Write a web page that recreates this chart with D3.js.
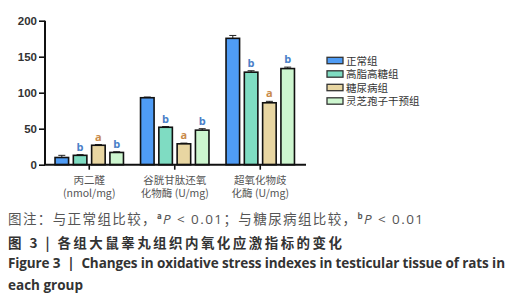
<!DOCTYPE html>
<html><head><meta charset="utf-8">
<script src="https://cdn.jsdelivr.net/npm/d3@7"></script>
<style>
html,body{margin:0;padding:0;background:#fff;}
svg{display:block;}
</style>
</head><body>
<svg id="chart" width="529" height="300"></svg>
<script>
const categories = [["丙二醛","(nmol/mg)"],["谷胱甘肽还氧","化物酶 (U/mg)"],["超氧化物歧","化酶 (U/mg)"]];
const seriesNames = ["正常组","高脂高糖组","糖尿病组","灵芝孢子干预组"];
const seriesColors = ["#4f9cf5","#7fdcc2","#e8d6a2","#cdf6cf"];
// values per category, one per series
const values = [
  [10, 13, 27, 17],
  [93, 52, 29, 48],
  [175.5, 128.5, 86, 133.5]
];
const errors = [
  [3, 1, 1, 1],
  [1, 1, 1, 2],
  [4, 2, 2, 2]
];
const marks = [
  ["", "b", "a", "b"],
  ["", "b", "a", "b"],
  ["", "b", "a", "b"]
];
const yTicks = [0, 50, 100, 150, 200];

const svg = d3.select("#chart");
const y = d3.scaleLinear().domain([0, 200]).range([164.7, 20.7]);
const x0 = d3.scaleBand().domain(d3.range(categories.length)).range([46.5, 303]).padding(0);
const x1 = d3.scaleBand().domain(d3.range(seriesNames.length)).range([-36.5, 36.5]).paddingInner(0.26).paddingOuter(0.125);

// bars
const g = svg.append("g");
categories.forEach((c, ci) => {
  const cx = x0(ci) + x0.bandwidth() / 2;
  values[ci].forEach((v, si) => {
    const bx = cx + x1(si);
    const bw = x1.bandwidth();
    const top = y(v + errors[ci][si]);
    g.append("line").attr("x1", bx + bw / 2).attr("x2", bx + bw / 2)
      .attr("y1", y(v)).attr("y2", top).attr("stroke", "#222").attr("stroke-width", 1);
    g.append("line").attr("x1", bx + bw / 2 - 3.5).attr("x2", bx + bw / 2 + 3.5)
      .attr("y1", top).attr("y2", top).attr("stroke", "#222").attr("stroke-width", 1);
    g.append("rect").attr("x", bx).attr("y", y(v)).attr("width", bw).attr("height", y(0) - y(v))
      .attr("fill", seriesColors[si]).attr("stroke", "#111").attr("stroke-width", 1.6);
    if (marks[ci][si]) {
      g.append("text").attr("x", bx + bw / 2).attr("y", top - 4)
        .attr("text-anchor", "middle")
        .attr("font-family", "Open Sans, Arial, sans-serif").attr("font-weight", "bold")
        .attr("font-size", 11)
        .attr("fill", marks[ci][si] === "a" ? "#c98a4a" : "#4a7fc8")
        .text(marks[ci][si]);
    }
  });
});

// y axis
const yAxis = d3.axisLeft(y).tickValues(yTicks).tickSize(6).tickPadding(2);
const ya = svg.append("g").attr("transform", "translate(45,0)").call(yAxis);
ya.select(".domain").attr("stroke", "#111").attr("stroke-width", 2).attr("d", "M0," + y(200) + "V" + y(0));
ya.selectAll(".tick line").attr("stroke", "#111").attr("stroke-width", 1.6);
ya.selectAll(".tick text").attr("font-family", "Liberation Sans, Arial, sans-serif")
  .attr("font-weight", "bold").attr("font-size", 11.5).attr("fill", "#333");

// x axis
const xa = svg.append("g").attr("transform", "translate(0," + y(0) + ")");
xa.append("line").attr("x1", 44).attr("x2", 306).attr("stroke", "#111").attr("stroke-width", 2);
categories.forEach((c, ci) => {
  const cx = x0(ci) + x0.bandwidth() / 2;
  xa.append("line").attr("x1", cx).attr("x2", cx).attr("y1", 0).attr("y2", 5)
    .attr("stroke", "#111").attr("stroke-width", 1.6);
  c.forEach((t, li) => {
    xa.append("text").attr("x", cx).attr("y", 19 + li * 13.5)
      .attr("text-anchor", "middle")
      .attr("font-family", "Noto Sans CJK SC, sans-serif").attr("font-size", 10.5)
      .attr("fill", "#555").text(t);
  });
});

// legend
const lg = svg.append("g");
seriesNames.forEach((n, i) => {
  const cy = 60.5 + i * 13.5;
  lg.append("rect").attr("x", 327).attr("y", cy - 3.2).attr("width", 16).attr("height", 6.4)
    .attr("fill", seriesColors[i]).attr("stroke", "#333").attr("stroke-width", 1.3);
  lg.append("text").attr("x", 346).attr("y", cy + 4)
    .attr("font-family", "Noto Sans CJK SC, sans-serif").attr("font-size", 10.5)
    .attr("fill", "#333").text(n);
});

// captions
const cap = svg.append("g").attr("font-family", "Noto Sans CJK SC, Open Sans, sans-serif");
const l1 = cap.append("text").attr("x", 8).attr("y", 224).attr("font-size", 13.5).attr("fill", "#555")
  .attr("textLength", 415).attr("lengthAdjust", "spacing");
l1.append("tspan").text("图注：与正常组比较，");
l1.append("tspan").attr("font-size", 8).attr("dy", -5).attr("font-weight", "bold").text("a");
l1.append("tspan").attr("dy", 5).attr("font-style", "italic").attr("font-family", "Open Sans, sans-serif").text("P");
l1.append("tspan").attr("font-family", "Open Sans, sans-serif").text("\u00a0< 0.01");
l1.append("tspan").text("；与糖尿病组比较，");
l1.append("tspan").attr("font-size", 8).attr("dy", -5).attr("font-weight", "bold").text("b");
l1.append("tspan").attr("dy", 5).attr("font-style", "italic").attr("font-family", "Open Sans, sans-serif").text("P");
l1.append("tspan").attr("font-family", "Open Sans, sans-serif").text("\u00a0< 0.01");

cap.append("text").attr("x", 8).attr("y", 248).attr("font-size", 13.5).attr("font-weight", "bold")
  .attr("fill", "#333").attr("textLength", 334).attr("lengthAdjust", "spacing")
  .text("图 3\u00a0|\u00a0各组大鼠睾丸组织内氧化应激指标的变化");
cap.append("text").attr("x", 8).attr("y", 268).attr("font-size", 13.5).attr("font-weight", "bold")
  .attr("font-family", "Open Sans, sans-serif")
  .attr("fill", "#333").attr("textLength", 497).attr("lengthAdjust", "spacing")
  .text("Figure 3\u00a0\u00a0|\u00a0\u00a0Changes in oxidative stress indexes in testicular tissue of rats in");
cap.append("text").attr("x", 8).attr("y", 290).attr("font-size", 13.5).attr("font-weight", "bold")
  .attr("font-family", "Open Sans, sans-serif")
  .attr("fill", "#333").text("each group");
</script>
</body></html>
